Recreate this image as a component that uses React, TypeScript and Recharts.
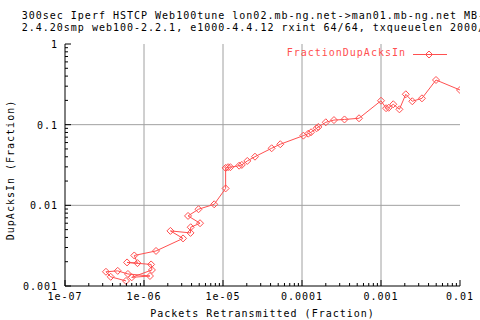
// Log-log scatter trace of dup-ack fraction vs retransmit fraction, gnuplot look.

import { ScatterChart, Scatter, XAxis, YAxis, ReferenceLine, Legend } from 'recharts';

const RED = '#ff5050';
const GRID = '#a0a0a0';
const FONT = '"DejaVu Sans Mono", monospace';

const TITLE_LINES = [
  '300sec Iperf HSTCP Web100tune lon02.mb-ng.net->man01.mb-ng.net MB-',
  '2.4.20smp web100-2.2.1, e1000-4.4.12 rxint 64/64, txqueuelen 2000/',
];
const X_TITLE = 'Packets Retransmitted (Fraction)';
const Y_TITLE = 'DupAcksIn (Fraction)';
const SERIES_NAME = 'FractionDupAcksIn';

const X_MAJOR = [1e-7, 1e-6, 1e-5, 1e-4, 1e-3, 1e-2];
const X_LABELS = ['1e-07', '1e-06', '1e-05', '0.0001', '0.001', '0.01'];
const Y_MAJOR = [1e-3, 1e-2, 1e-1, 1];
const Y_LABELS = ['0.001', '0.01', '0.1', '1'];
const MINOR_STEPS = [2, 3, 4, 5, 6, 7, 8, 9];

const packetsRetransmitted = [
  5.92e-7, 3.79e-7, 3.3e-7, 4.65e-7, 6.26e-7, 1.19e-6, 6.99e-7, 1.26e-6, 1.23e-6, 6.1e-7,
  8.27e-7, 7.53e-7, 1.42e-6, 3.12e-6, 2.16e-6, 3.88e-6, 3.9e-6, 5.12e-6, 3.61e-6, 4.9e-6,
  7.74e-6, 1.08e-5, 1.08e-5, 1.16e-5, 1.24e-5, 1.6e-5, 1.73e-5, 2.03e-5, 2.54e-5, 4.13e-5,
  5.31e-5, 1.04e-4, 1.2e-4, 1.3e-4, 1.53e-4, 1.61e-4, 2.0e-4, 2.54e-4, 3.45e-4, 5.27e-4,
  1.0e-3, 1.16e-3, 1.25e-3, 1.43e-3, 1.71e-3, 2.06e-3, 2.49e-3, 3.3e-3, 4.97e-3, 1.0e-2,
];
const fractionDupAcksIn = [
  1.156e-3, 1.3e-3, 1.5e-3, 1.54e-3, 1.41e-3, 1.33e-3, 1.28e-3, 1.58e-3, 1.85e-3, 1.96e-3,
  1.92e-3, 2.39e-3, 2.72e-3, 3.89e-3, 4.82e-3, 4.55e-3, 5.35e-3, 6.0e-3, 7.39e-3, 8.95e-3,
  1.03e-2, 1.62e-2, 2.91e-2, 2.97e-2, 2.97e-2, 3.1e-2, 3.17e-2, 3.55e-2, 4.01e-2, 5.1e-2,
  5.72e-2, 7.31e-2, 7.73e-2, 8.05e-2, 9.02e-2, 9.36e-2, 0.107, 0.114, 0.116, 0.12,
  0.198, 0.16, 0.162, 0.179, 0.155, 0.238, 0.195, 0.212, 0.358, 0.269,
];

const data = packetsRetransmitted.map((x, i) => ({ x, y: fractionDupAcksIn[i] }));

// majors plus 2..9 minors for every decade but the last
const withMinors = (majors: number[]) =>
  majors.flatMap((m, i) => (i < majors.length - 1 ? [m, ...MINOR_STEPS.map((s) => s * m)] : [m]));
const X_TICKS = withMinors(X_MAJOR);
const Y_TICKS = withMinors(Y_MAJOR);

const textStyle = { fontFamily: FONT, fontSize: 10, letterSpacing: 1 };

const tickLen = (majors: number[], v: number) => (majors.includes(v) ? 6 : 3);

function BottomTick({ x, y, payload }: any) {
  const i = X_MAJOR.indexOf(payload.value);
  return (
    <g>
      <line x1={x} x2={x} y1={y} y2={y - tickLen(X_MAJOR, payload.value)} stroke="#000" />
      {i >= 0 && (
        <text x={x} y={y + 14} textAnchor="middle" fill="#000" style={textStyle}>
          {X_LABELS[i]}
        </text>
      )}
    </g>
  );
}

function TopTick({ x, y, payload }: any) {
  return <line x1={x} x2={x} y1={y} y2={y + tickLen(X_MAJOR, payload.value)} stroke="#000" />;
}

function LeftTick({ x, y, payload }: any) {
  const i = Y_MAJOR.indexOf(payload.value);
  return (
    <g>
      <line x1={x} x2={x + tickLen(Y_MAJOR, payload.value)} y1={y} y2={y} stroke="#000" />
      {i >= 0 && (
        <text x={x - 7} y={y + 4} textAnchor="end" fill="#000" style={textStyle}>
          {Y_LABELS[i]}
        </text>
      )}
    </g>
  );
}

function RightTick({ x, y, payload }: any) {
  return <line x1={x} x2={x - tickLen(Y_MAJOR, payload.value)} y1={y} y2={y} stroke="#000" />;
}

function XTitle({ viewBox }: any) {
  const { x, y, width } = viewBox;
  return (
    <text x={x + width / 2} y={y + 30.5} textAnchor="middle" fill="#000" style={textStyle}>
      {X_TITLE}
    </text>
  );
}

function YTitle({ viewBox }: any) {
  const { x, y, height } = viewBox;
  const cx = x + 14;
  const cy = y + height / 2 + 5;
  return (
    <text x={cx} y={cy} textAnchor="middle" transform={`rotate(-90, ${cx}, ${cy})`} fill="#000" style={textStyle}>
      {Y_TITLE}
    </text>
  );
}

function Diamond({ cx, cy }: any) {
  const r = 3.5;
  return (
    <path
      d={`M${cx},${cy - r}L${cx + r},${cy}L${cx},${cy + r}L${cx - r},${cy}Z`}
      fill="none"
      stroke={RED}
    />
  );
}

function LegendBox() {
  return (
    <div style={{ position: 'relative', height: 14 }}>
      <span
        style={{
          position: 'absolute',
          right: 74,
          top: 0,
          color: RED,
          fontFamily: FONT,
          fontSize: 10,
          letterSpacing: 1,
          lineHeight: '12px',
          whiteSpace: 'pre',
        }}
      >
        {SERIES_NAME}
      </span>
      <svg style={{ position: 'absolute', left: 413, top: 0 }} width={36} height={14}>
        <line x1={0} x2={34} y1={7.5} y2={7.5} stroke={RED} />
        <Diamond cx={16} cy={7.5} />
      </svg>
    </div>
  );
}

export default function App() {
  return (
    <div style={{ position: 'absolute', left: 0, top: 0, width: 480, height: 320, background: '#fff' }}>
      <div
        style={{
          position: 'absolute',
          left: 21.7,
          top: 9.5,
          width: 460,
          overflow: 'hidden',
          fontFamily: FONT,
          fontSize: 10,
          letterSpacing: 1,
          lineHeight: '12px',
          whiteSpace: 'pre',
          color: '#000',
        }}
      >
        {TITLE_LINES.map((t) => (
          <div key={t}>{t}</div>
        ))}
      </div>
      <ScatterChart width={480} height={320} margin={{ top: 44, right: 20, bottom: 0, left: 0 }}>
        <XAxis
          xAxisId="b"
          dataKey="x"
          type="number"
          scale="log"
          domain={[1e-7, 1e-2]}
          allowDataOverflow
          ticks={X_TICKS}
          interval={0}
          tickSize={0}
          tickMargin={0}
          tickLine={false}
          tick={<BottomTick />}
          height={34}
          axisLine={{ stroke: '#000' }}
          label={<XTitle />}
        />
        <XAxis
          xAxisId="t"
          orientation="top"
          type="number"
          scale="log"
          domain={[1e-7, 1e-2]}
          allowDataOverflow
          ticks={X_TICKS}
          interval={0}
          tickSize={0}
          tickMargin={0}
          tickLine={false}
          tick={<TopTick />}
          height={0}
          axisLine={{ stroke: '#000' }}
        />
        <YAxis
          yAxisId="l"
          dataKey="y"
          type="number"
          scale="log"
          domain={[1e-3, 1]}
          allowDataOverflow
          ticks={Y_TICKS}
          interval={0}
          tickSize={0}
          tickMargin={0}
          tickLine={false}
          tick={<LeftTick />}
          width={65}
          axisLine={{ stroke: '#000' }}
          label={<YTitle />}
        />
        <YAxis
          yAxisId="r"
          orientation="right"
          type="number"
          scale="log"
          domain={[1e-3, 1]}
          allowDataOverflow
          ticks={Y_TICKS}
          interval={0}
          tickSize={0}
          tickMargin={0}
          tickLine={false}
          tick={<RightTick />}
          width={0}
          axisLine={{ stroke: '#000' }}
        />
        {X_MAJOR.slice(1, -1).map((v) => (
          <ReferenceLine key={`gx${v}`} x={v} xAxisId="b" yAxisId="l" stroke={GRID} />
        ))}
        {Y_MAJOR.slice(1, -1).map((v) => (
          <ReferenceLine key={`gy${v}`} y={v} xAxisId="b" yAxisId="l" stroke={GRID} />
        ))}
        <Legend
          verticalAlign="middle"
          align="center"
          content={<LegendBox />}
          wrapperStyle={{ top: 47, left: 0, width: 480 }}
        />
        <Scatter
          name={SERIES_NAME}
          data={data}
          xAxisId="b"
          yAxisId="l"
          fill={RED}
          stroke={RED}
          line={{ stroke: RED, strokeWidth: 1 }}
          shape={<Diamond />}
          isAnimationActive={false}
        />
      </ScatterChart>
    </div>
  );
}
